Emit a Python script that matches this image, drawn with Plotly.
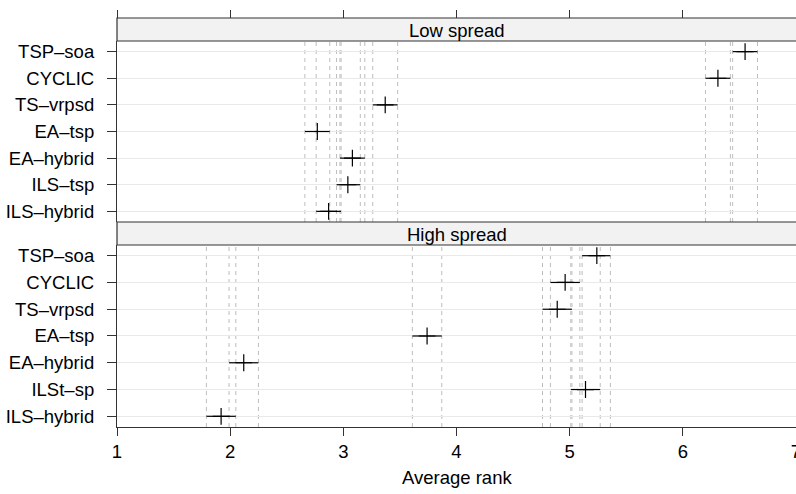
import plotly.graph_objects as go

# ---- data ----
methods_low = ["TSP–soa", "CYCLIC", "TS–vrpsd", "EA–tsp", "EA–hybrid", "ILS–tsp", "ILS–hybrid"]
low_mean = [6.55, 6.31, 3.37, 2.77, 3.08, 3.04, 2.87]
low_lo = [6.44, 6.20, 3.26, 2.66, 2.97, 2.94, 2.76]
low_hi = [6.66, 6.42, 3.48, 2.88, 3.19, 3.15, 2.98]

methods_high = ["TSP–soa", "CYCLIC", "TS–vrpsd", "EA–tsp", "EA–hybrid", "ILSt–sp", "ILS–hybrid"]
high_mean = [5.24, 4.96, 4.89, 3.74, 2.12, 5.14, 1.92]
high_lo = [5.11, 4.83, 4.76, 3.61, 1.99, 5.01, 1.79]
high_hi = [5.36, 5.09, 5.02, 3.87, 2.25, 5.27, 2.05]

x_ticks = [1, 2, 3, 4, 5, 6, 7]
panel_titles = ["Low spread", "High spread"]
x_title = "Average rank"

FONT = "Liberation Sans, Arial, Helvetica, sans-serif"
FS = 18.5
AX = "#333333"

fig = go.Figure()


def add_panel(methods, mean, lo, hi, xa, ya):
    fig.add_trace(go.Scatter(
        x=mean, y=methods, xaxis=xa, yaxis=ya, mode="markers",
        marker=dict(symbol="cross-thin", size=12, color="black",
                    line=dict(color="black", width=1.2)),
        error_x=dict(type="data", symmetric=False,
                     array=[h - m for h, m in zip(hi, mean)],
                     arrayminus=[m - l for m, l in zip(mean, lo)],
                     width=0, thickness=1.2, color="black"),
        showlegend=False, hoverinfo="x+y"))
    ydom = ya + " domain"
    for v in list(lo) + list(hi):
        fig.add_shape(type="line", xref=xa, yref=ydom, x0=v, x1=v, y0=0, y1=1,
                      line=dict(color="#bdbdbd", width=1, dash="4px,4px"),
                      layer="below")


add_panel(methods_low, low_mean, low_lo, low_hi, "x2", "y2")
add_panel(methods_high, high_mean, high_lo, high_hi, "x", "y")

# invisible trace to carry the top axis
fig.add_trace(go.Scatter(x=low_mean, y=methods_low, xaxis="x3", yaxis="y2",
                         mode="markers", marker=dict(opacity=0),
                         showlegend=False, hoverinfo="skip"))

y_bot_dom = [0.0, 0.445]
y_top_dom = [0.5012, 0.9438]
strip_doms = [[0.9438, 1.0], [0.445, 0.5012]]

common_y = dict(type="category", range=[-0.4, 6.4], ticks="outside", ticklen=9,
                tickcolor=AX, showline=True, linecolor=AX, linewidth=1.2,
                showgrid=True, gridcolor="#e9e9e9", gridwidth=1, zeroline=False,
                automargin=False, ticklabelstandoff=9,
                tickfont=dict(family=FONT, size=FS, color="black"))

fig.update_layout(
    width=796, height=494,
    margin=dict(l=117, r=0, t=18, b=67, autoexpand=False),
    paper_bgcolor="white", plot_bgcolor="white",
    font=dict(family=FONT, size=FS, color="black"),
    xaxis=dict(domain=[0, 1], anchor="y", range=[1, 7], tickvals=x_ticks,
               ticks="outside", ticklen=8, tickcolor=AX, showline=True,
               linecolor=AX, linewidth=1.2, showgrid=False, zeroline=False,
               automargin=False, ticklabeloverflow="allow",
               tickfont=dict(family=FONT, size=FS, color="black")),
    xaxis2=dict(domain=[0, 1], anchor="y2", range=[1, 7], tickvals=x_ticks,
                showticklabels=False, ticks="", showline=False,
                showgrid=False, zeroline=False, automargin=False),
    xaxis3=dict(overlaying="x2", anchor="free", position=1.0, side="top",
                range=[1, 7], tickvals=x_ticks, ticks="outside", ticklen=8,
                tickcolor=AX, showticklabels=False, showline=True,
                linecolor=AX, linewidth=1.2, showgrid=False, zeroline=False,
                automargin=False),
    yaxis=dict(domain=y_bot_dom, anchor="x",
               categoryarray=methods_high[::-1], categoryorder="array",
               **common_y),
    yaxis2=dict(domain=y_top_dom, anchor="x2",
                categoryarray=methods_low[::-1], categoryorder="array",
                **common_y),
)

for title, (d0, d1) in zip(panel_titles, strip_doms):
    fig.add_shape(type="rect", xref="paper", yref="paper", x0=0, x1=1.01,
                  y0=d0, y1=d1, fillcolor="#f2f2f2",
                  line=dict(color=AX, width=1.2), layer="above")
    fig.add_annotation(text=title, xref="paper", yref="paper", x=0.5,
                       y=(d0 + d1) / 2, yshift=-1, showarrow=False,
                       xanchor="center", yanchor="middle",
                       font=dict(family=FONT, size=FS, color="black"))

fig.add_annotation(text=x_title, xref="paper", yref="paper", x=0.5, y=0,
                   yshift=-50, showarrow=False, xanchor="center",
                   yanchor="middle",
                   font=dict(family=FONT, size=FS, color="black"))

fig.write_html(
    "out.html",
    config={"displayModeBar": False},
    post_script="document.body.style.margin='0';document.body.style.overflow='hidden';",
)
